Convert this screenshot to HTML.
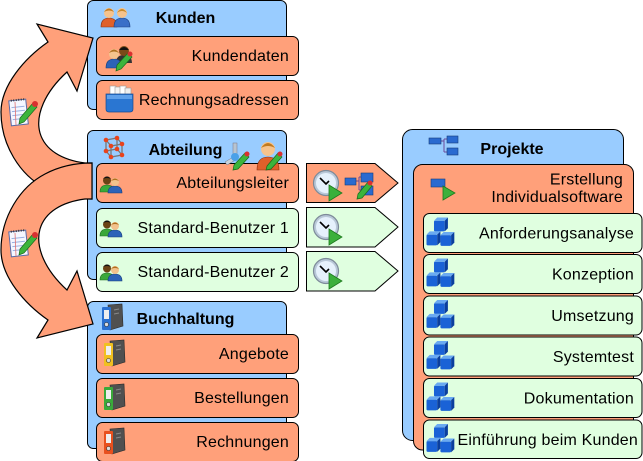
<!DOCTYPE html>
<html>
<head>
<meta charset="utf-8">
<style>
html,body{margin:0;padding:0;background:#fff;}
svg{display:block;}
text{font-family:"Liberation Sans",Arial,sans-serif;font-size:16px;fill:#000;letter-spacing:0.2px;}
.b{font-weight:bold;letter-spacing:0;}
</style>
</head>
<body>
<svg width="643" height="461" viewBox="0 0 643 461" xmlns="http://www.w3.org/2000/svg">
<defs>
  <g id="pp">
    <path d="M0 17 Q0 10 7 10 Q14 10 14 17 Z" fill="#3aa83a" stroke="#1e6b1e" stroke-width="0.6"/>
    <circle cx="7" cy="5.5" r="4" fill="#6b4215"/>
    <path d="M3 4 Q7 -1 11 4 Q7 2 3 4Z" fill="#111"/>
    <path d="M8 18 Q8 11 15 11 Q22 11 22 18 Z" fill="#2d63b8" stroke="#173d7a" stroke-width="0.6"/>
    <circle cx="15" cy="7" r="4" fill="#f2c28c"/>
    <path d="M11 6 Q15 1 19 6 Q15 4 11 6Z" fill="#b07020"/>
  </g>
  <g id="cube">
    <rect x="0" y="3" width="10" height="10" rx="1" fill="#1a62d6"/>
    <polygon points="0,3 3,0 13,0 10,3" fill="#6aaaf2"/>
    <polygon points="10,3 13,0 13,10 10,13" fill="#0b3f9e"/>
  </g>
  <g id="cubes">
    <use href="#cube" x="7" y="0"/>
    <use href="#cube" x="0" y="13"/>
    <use href="#cube" x="13" y="13.5"/>
  </g>
  <g id="bd">
    <polygon points="6,1 20,0 21,22 8,26" fill="#505050" stroke="#2a2a2a" stroke-width="0.6"/>
    <line x1="12" y1="6" x2="17" y2="5" stroke="#888" stroke-width="1"/>
    <line x1="12" y1="10" x2="17" y2="9" stroke="#888" stroke-width="1"/>
    <rect x="0" y="3" width="9" height="23" rx="1"/>
    <rect x="2" y="6" width="5" height="9" fill="#eee"/>
    <circle cx="4.5" cy="20.5" r="2" fill="#ddd" stroke="#333" stroke-width="0.6"/>
  </g>
  <g id="clk">
    <circle cx="0" cy="0" r="12.5" fill="#b9c8d8" stroke="#7d8a99" stroke-width="1.2"/>
    <circle cx="0" cy="0" r="10" fill="#e6f1fc"/>
    <path d="M-6 -5 L0 1 L3 -2" fill="none" stroke="#000" stroke-width="1.6"/>
    <polygon points="3,2 16,10 3,18" fill="#3bb03b" stroke="#1d7a1d" stroke-width="0.8"/>
  </g>
  <g id="note">
    <rect x="0" y="2" width="17" height="25" fill="#f5f7ff" stroke="#5a6aa8" stroke-width="1" transform="rotate(-6 8 14)"/>
    <g stroke="#9ab0e0" stroke-width="1" transform="rotate(-6 8 14)">
      <line x1="2" y1="9" x2="15" y2="9"/><line x1="2" y1="13" x2="15" y2="13"/>
      <line x1="2" y1="17" x2="15" y2="17"/><line x1="2" y1="21" x2="15" y2="21"/>
    </g>
    <line x1="5" y1="4" x2="6" y2="27" stroke="#e07070" stroke-width="0.8"/>
    <path d="M2 2 h14" stroke="#333" stroke-width="2" stroke-dasharray="1 1.5" transform="rotate(-6 8 14)"/>
    <polygon points="10,20 23,5 27,9 14,24 9,26" fill="#3cb43c" stroke="#1a6a1a" stroke-width="0.7"/>
    <circle cx="25" cy="6" r="3" fill="#d83030"/>
  </g>
</defs>

<rect x="87.5" y="0.5" width="199" height="109" rx="6" fill="#99ccff" stroke="#000"/>
<rect x="87.5" y="130.5" width="199" height="149" rx="6" fill="#99ccff" stroke="#000"/>
<rect x="87.5" y="301.5" width="199" height="147" rx="6" fill="#99ccff" stroke="#000"/>
<rect x="402.5" y="129.5" width="221" height="311" rx="10" fill="#99ccff" stroke="#000"/>

<rect x="96.5" y="36.5" width="202" height="39" rx="6" fill="#ffa07a" stroke="#000"/>
<rect x="96.5" y="80.5" width="202" height="39" rx="6" fill="#ffa07a" stroke="#000"/>
<rect x="96.5" y="163.5" width="202" height="39" rx="6" fill="#ffa07a" stroke="#000"/>
<rect x="96.5" y="208.5" width="202" height="39" rx="6" fill="#e0ffe0" stroke="#000"/>
<rect x="96.5" y="252.5" width="202" height="39" rx="6" fill="#e0ffe0" stroke="#000"/>
<rect x="96.5" y="334.5" width="202" height="39" rx="6" fill="#ffa07a" stroke="#000"/>
<rect x="96.5" y="378.5" width="202" height="39" rx="6" fill="#ffa07a" stroke="#000"/>
<rect x="96.5" y="422.5" width="202" height="39" rx="6" fill="#ffa07a" stroke="#000"/>

<path d="M306.5 163.5 H375 L398 183 L375 202.5 H306.5 Z" fill="#ffa07a" stroke="#000"/>
<path d="M306.5 207.5 H375 L398 227 L375 247 H306.5 Z" fill="#e0ffe0" stroke="#000"/>
<path d="M306.5 251.5 H375 L398 271 L375 291 H306.5 Z" fill="#e0ffe0" stroke="#000"/>

<rect x="413.5" y="164.5" width="220" height="285.5" rx="9" fill="#ffa07a" stroke="#000"/>
<rect x="423.5" y="213.5" width="218.5" height="39" rx="6" fill="#e0ffe0" stroke="#000"/>
<rect x="423.5" y="254.5" width="218.5" height="39" rx="6" fill="#e0ffe0" stroke="#000"/>
<rect x="423.5" y="296" width="218.5" height="39" rx="6" fill="#e0ffe0" stroke="#000"/>
<rect x="423.5" y="337" width="218.5" height="39" rx="6" fill="#e0ffe0" stroke="#000"/>
<rect x="423.5" y="378.5" width="218.5" height="39" rx="6" fill="#e0ffe0" stroke="#000"/>
<rect x="423.5" y="420" width="218.5" height="38.5" rx="6" fill="#e0ffe0" stroke="#000"/>

<path d="M 92 199 C 75 199 60 196 45 188 C 20 175 1 145 1 112 C 1 85 25 58 48 42 L 37 24 L 93 38 L 77 91 L 67 72 C 45 92 35 115 40 133 C 45 150 62 160 85 163 L 92 163 Z" fill="#ffa07a" stroke="#000" stroke-width="1.2"/>
<path d="M 92 199 C 75 199 60 196 45 188 C 20 175 1 145 1 112 C 1 85 25 58 48 42 L 37 24 L 93 38 L 77 91 L 67 72 C 45 92 35 115 40 133 C 45 150 62 160 85 163 L 92 163 Z" transform="matrix(1 0 0 -1 0 362)" fill="#ffa07a" stroke="#000" stroke-width="1.2"/>
<use href="#note" x="10" y="98"/>
<use href="#note" x="10" y="229"/>

<g transform="translate(101,6)">
  <path d="M0 21 Q0 12 8 12 Q16 12 16 21 Z" fill="#e0602a" stroke="#8a3010" stroke-width="0.6"/>
  <circle cx="8" cy="7" r="5" fill="#f6c38d"/>
  <path d="M3 6 Q8 -1 13 6 Q8 3 3 6Z" fill="#c07a20"/>
  <path d="M13 21 Q13 12 21 12 Q29 12 29 21 Z" fill="#3a6fc8" stroke="#1c3f80" stroke-width="0.6"/>
  <circle cx="21" cy="7" r="5" fill="#f6c38d"/>
  <path d="M16 7 Q21 -1 26 7 Q21 3 16 7Z" fill="#c98a2a"/>
</g>
<g transform="translate(106,45)">
  <path d="M10 18 Q10 10 18 10 Q26 10 26 18 Z" fill="#333"/>
  <circle cx="18" cy="6" r="5" fill="#7a4a18"/>
  <path d="M13 5 Q18 -1 23 5Z" fill="#111"/>
  <path d="M0 23 Q0 14 8 14 Q16 14 16 23 Z" fill="#2d63b8" stroke="#173d7a" stroke-width="0.6"/>
  <circle cx="8" cy="9" r="5" fill="#f6c38d"/>
  <path d="M3 8 Q8 1 13 8 Q8 5 3 8Z" fill="#b07020"/>
  <polygon points="11,20 22,8 26,12 15,24 10,26" fill="#3cb43c" stroke="#1a6a1a" stroke-width="0.7"/>
  <circle cx="24" cy="9" r="2.5" fill="#d83030"/>
</g>
<g transform="translate(106,86)">
  <rect x="4" y="0" width="6" height="10" fill="#fff" stroke="#999" stroke-width="0.6"/>
  <rect x="9" y="1" width="6" height="10" fill="#f4f4f4" stroke="#999" stroke-width="0.6"/>
  <rect x="14" y="0" width="6" height="10" fill="#fff" stroke="#999" stroke-width="0.6"/>
  <rect x="19" y="2" width="6" height="9" fill="#eee" stroke="#999" stroke-width="0.6"/>
  <path d="M0 8 H27 V23 Q27 26 24 26 H3 Q0 26 0 23 Z" fill="#2a76d2" stroke="#174a90" stroke-width="0.7"/>
  <rect x="1" y="9" width="25" height="4" fill="#5fa0ea"/>
</g>
<g transform="translate(102,136)" stroke="#777" stroke-width="1.3" fill="none">
  <path d="M4 4 L15 2 L20 8 L9 10 Z M4 4 L4 15 M15 2 L15 13 M20 8 L20 19 M9 10 L9 21 M4 15 L15 13 L20 19 L9 21 Z"/>
  <g fill="#e8431c" stroke="none">
    <circle cx="4" cy="4" r="2.3"/><circle cx="15" cy="2" r="2.3"/><circle cx="20" cy="8" r="2.3"/><circle cx="9" cy="10" r="2.3"/>
    <circle cx="4" cy="15" r="2.3"/><circle cx="15" cy="13" r="2.3"/><circle cx="20" cy="19" r="2.3"/><circle cx="9" cy="21" r="2.3"/>
  </g>
</g>
<g transform="translate(225,143)">
  <rect x="8" y="0" width="4" height="14" fill="#b8c4d0" stroke="#778" stroke-width="0.5"/>
  <polygon points="0,19 10,13 12,16 2,22" fill="#c8d2dc" stroke="#778" stroke-width="0.5"/>
  <circle cx="10" cy="14" r="4" fill="#4aa0e8"/>
  <polygon points="9,22 20,10 24,14 13,26 8,27" fill="#3cb43c" stroke="#1a6a1a" stroke-width="0.7"/>
  <circle cx="22" cy="11" r="2.5" fill="#d83030"/>
</g>
<g transform="translate(257,140)">
  <path d="M0 30 Q0 17 11 17 Q22 17 22 30 Z" fill="#e0602a" stroke="#8a3010" stroke-width="0.6"/>
  <circle cx="11" cy="9" r="7" fill="#f6c38d"/>
  <path d="M4 8 Q11 -2 18 8 Q11 4 4 8Z" fill="#c07a20"/>
  <polygon points="10,26 21,13 25,17 14,29 9,30" fill="#3cb43c" stroke="#1a6a1a" stroke-width="0.7"/>
  <circle cx="23" cy="14" r="2.5" fill="#d83030"/>
</g>
<use href="#pp" x="100" y="175"/>
<use href="#pp" x="100" y="219"/>
<use href="#pp" x="100" y="263"/>
<use href="#bd" x="102" y="304" fill="#2a70d0"/>
<use href="#bd" x="104" y="340" fill="#f0c020"/>
<use href="#bd" x="104" y="384" fill="#3aaa3a"/>
<use href="#bd" x="104" y="428" fill="#e8501e"/>
<use href="#clk" x="326" y="183"/>
<use href="#clk" x="326" y="227"/>
<use href="#clk" x="326" y="271"/>
<g>
  <path d="M356 181 H359 M359 177 V190 M359 177 H361 M359 190 H361" stroke="#6a4a9a" stroke-width="1" fill="none"/>
  <rect x="345" y="178" width="11" height="7" fill="#2a6ad0" stroke="#173d7a" stroke-width="0.6"/>
  <rect x="361" y="173" width="12" height="9" fill="#2a6ad0" stroke="#173d7a" stroke-width="0.6"/>
  <rect x="361" y="186" width="12" height="9" fill="#2a6ad0" stroke="#173d7a" stroke-width="0.6"/>
  <polygon points="358,194 368,182 372,186 362,198 357,199" fill="#3cb43c" stroke="#1a6a1a" stroke-width="0.7"/>
  <circle cx="370" cy="183" r="2.5" fill="#d83030"/>
</g>
<g>
  <path d="M441 141 H444 M444 139 V152 M444 139 H447 M444 152 H447" stroke="#6a4a9a" stroke-width="1" fill="none"/>
  <rect x="429" y="138" width="12" height="6" fill="#2a6ad0" stroke="#173d7a" stroke-width="0.6"/>
  <rect x="447" y="136" width="11" height="7" fill="#2a6ad0" stroke="#173d7a" stroke-width="0.6"/>
  <rect x="447" y="148" width="11" height="7" fill="#2a6ad0" stroke="#173d7a" stroke-width="0.6"/>
</g>
<rect x="431" y="179" width="14" height="8" fill="#2a6ad0" stroke="#173d7a" stroke-width="0.6"/>
<polygon points="443,186 455,193 443,200" fill="#3bb03b" stroke="#1d7a1d" stroke-width="0.8"/>
<use href="#cubes" transform="translate(426.5,217.5) scale(1.07)"/>
<use href="#cubes" transform="translate(426.5,258.5) scale(1.07)"/>
<use href="#cubes" transform="translate(426.5,300) scale(1.07)"/>
<use href="#cubes" transform="translate(426.5,341) scale(1.07)"/>
<use href="#cubes" transform="translate(426.5,382.5) scale(1.07)"/>
<use href="#cubes" transform="translate(426.5,424) scale(1.07)"/>

<text class="b" x="185.5" y="23" text-anchor="middle">Kunden</text>
<text class="b" x="185.5" y="155" text-anchor="middle">Abteilung</text>
<text class="b" x="185.5" y="324" text-anchor="middle">Buchhaltung</text>
<text class="b" x="512" y="154" text-anchor="middle">Projekte</text>

<text x="289" y="61" text-anchor="end">Kundendaten</text>
<text x="289" y="105" text-anchor="end">Rechnungsadressen</text>
<text x="289" y="188" text-anchor="end">Abteilungsleiter</text>
<text x="289" y="233" text-anchor="end">Standard-Benutzer 1</text>
<text x="289" y="277" text-anchor="end">Standard-Benutzer 2</text>
<text x="289" y="359" text-anchor="end">Angebote</text>
<text x="289" y="403" text-anchor="end">Bestellungen</text>
<text x="289" y="447" text-anchor="end">Rechnungen</text>

<text x="623" y="184.5" text-anchor="end">Erstellung</text>
<text x="623" y="202" text-anchor="end">Individualsoftware</text>
<text x="634" y="238.5" text-anchor="end">Anforderungsanalyse</text>
<text x="634" y="279.5" text-anchor="end">Konzeption</text>
<text x="634" y="321" text-anchor="end">Umsetzung</text>
<text x="634" y="362" text-anchor="end">Systemtest</text>
<text x="634" y="403.5" text-anchor="end">Dokumentation</text>
<text x="638" y="445" text-anchor="end">Einführung beim Kunden</text>
</svg>
</body>
</html>
